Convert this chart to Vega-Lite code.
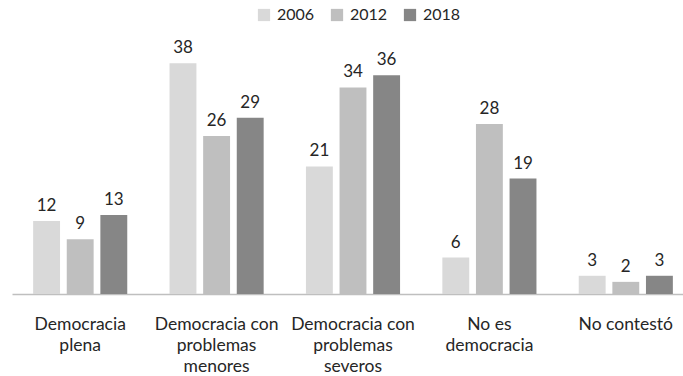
{
  "$schema": "https://vega.github.io/schema/vega-lite/v6.json",
  "width": 682,
  "height": 243,
  "padding": {"left": 12, "top": 7, "right": 0, "bottom": 0},
  "background": "white",
  "config": {"view": {"stroke": null}, "font": "Lato"},
  "data": {"values": [
    {"cat": "Democracia|plena", "year": "2006", "v": 12},
    {"cat": "Democracia|plena", "year": "2012", "v": 9},
    {"cat": "Democracia|plena", "year": "2018", "v": 13},
    {"cat": "Democracia con|problemas|menores", "year": "2006", "v": 38},
    {"cat": "Democracia con|problemas|menores", "year": "2012", "v": 26},
    {"cat": "Democracia con|problemas|menores", "year": "2018", "v": 29},
    {"cat": "Democracia con|problemas|severos", "year": "2006", "v": 21},
    {"cat": "Democracia con|problemas|severos", "year": "2012", "v": 34},
    {"cat": "Democracia con|problemas|severos", "year": "2018", "v": 36},
    {"cat": "No es|democracia", "year": "2006", "v": 6},
    {"cat": "No es|democracia", "year": "2012", "v": 28},
    {"cat": "No es|democracia", "year": "2018", "v": 19},
    {"cat": "No contestó", "year": "2006", "v": 3},
    {"cat": "No contestó", "year": "2012", "v": 2},
    {"cat": "No contestó", "year": "2018", "v": 3}
  ]},
  "encoding": {
    "x": {"field": "cat", "type": "nominal", "sort": null,
      "scale": {"paddingInner": 0.31, "paddingOuter": 0.155},
      "axis": {"title": null, "labelAngle": 0, "labelExpr": "split(datum.label, '|')",
        "labelFontSize": 17.5, "labelColor": "#262626", "labelLineHeight": 21, "labelPadding": 21,
        "ticks": false, "domainColor": "#bfbfbf", "domainWidth": 1.3, "labelBaseline": "top"}},
    "xOffset": {"field": "year", "type": "nominal", "scale": {"paddingInner": 0.2}},
    "y": {"field": "v", "type": "quantitative", "scale": {"domain": [0, 40]}, "axis": null}
  },
  "layer": [
    {"mark": {"type": "bar"},
     "encoding": {"color": {"field": "year", "type": "nominal",
       "scale": {"range": ["#d9d9d9", "#bfbfbf", "#868686"]},
       "legend": {"title": null, "orient": "none", "direction": "horizontal", "legendX": 244, "legendY": -44,
         "symbolType": "square", "symbolSize": 150, "symbolStrokeWidth": 0, "labelFontSize": 16, "labelColor": "#262626", "columnPadding": 14, "labelOffset": 5}}}},
    {"mark": {"type": "text", "dy": -15, "fontSize": 17, "color": "#262626"},
     "encoding": {"text": {"field": "v", "type": "quantitative"}}}
  ]
}
